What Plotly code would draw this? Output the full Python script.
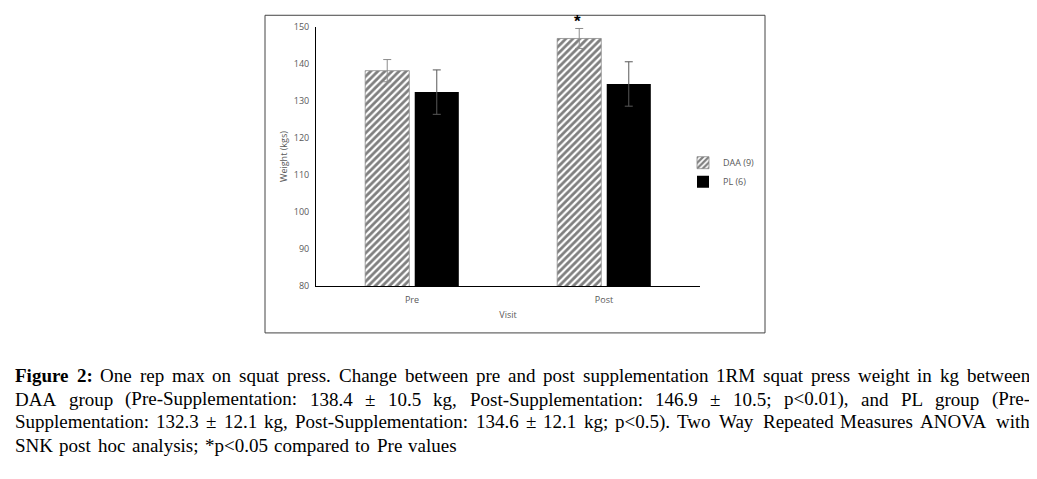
import plotly.graph_objects as go

# ---- data ----
visits = ["Pre", "Post"]
daa_mean = [138.2, 146.9]
daa_err = [3.0, 2.7]
pl_mean = [132.4, 134.6]
pl_err = [6.0, 6.0]
y_ticks = [80, 90, 100, 110, 120, 130, 140, 150]

caption_lines = [
    "<b>Figure</b> <b>2:</b> One rep max on squat press. Change between pre and post supplementation 1RM squat press weight in kg between",
    "DAA group (Pre-Supplementation: 138.4 ± 10.5 kg, Post-Supplementation: 146.9 ± 10.5; p<0.01), and PL group (Pre-",
    "Supplementation: 132.3 ± 12.1 kg, Post-Supplementation: 134.6 ± 12.1 kg; p<0.5). Two Way Repeated Measures ANOVA with",
    "SNK post hoc analysis; *p<0.05 compared to Pre values",
]

# ---- layout (screen pixel coordinates; page body has an 8px margin) ----
OFF = 8
W, H = 1037 - 2 * OFF, 479 - 2 * OFF
L, R, T, B = 316, 700, 21, 286  # plot area in screen pixels


def px(x):
    return (x - L) / (R - L)


def py(y):
    return (B - y) / (B - T)


fig = go.Figure()
fig.add_trace(go.Bar(
    name="DAA (9)", x=visits, y=daa_mean,
    error_y=dict(type="data", array=daa_err, color="#8c8c8c", thickness=1, width=4),
    marker=dict(color="white", line=dict(color="#8c8c8c", width=0.8),
                pattern=dict(shape="/", fgcolor="black", bgcolor="white", size=5, solidity=0.55)),
))
fig.add_trace(go.Bar(
    name="PL (6)", x=visits, y=pl_mean,
    error_y=dict(type="data", array=pl_err, color="#595959", thickness=1, width=4),
    marker=dict(color="black", line=dict(width=0)),
))

tick_font = dict(family="Open Sans, Liberation Sans, sans-serif", size=9, color="#595959")

fig.update_layout(
    width=W, height=H,
    margin=dict(l=L - OFF, r=(W + OFF) - R, t=T - OFF, b=(H + OFF) - B, pad=0),
    paper_bgcolor="white", plot_bgcolor="white",
    barmode="group", bargap=0.484, bargroupgap=0.11,
    showlegend=True,
    legend=dict(x=px(683), y=py(145), xanchor="left", yanchor="top",
                font=tick_font, itemwidth=30, bgcolor="rgba(0,0,0,0)"),
    font=tick_font,
)
fig.update_yaxes(range=[80, 150], tickvals=y_ticks, showgrid=False, zeroline=False,
                 showline=True, linecolor="black", linewidth=1, ticks="", tickfont=tick_font,
                 ticklabelstandoff=4,
                 title=dict(text="Weight (kgs)", font=tick_font, standoff=4))
fig.update_xaxes(showgrid=False, showline=True, linecolor="black", linewidth=1, ticks="",
                 tickfont=tick_font, ticklabelstandoff=5,
                 title=dict(text="Visit", font=tick_font, standoff=6))

# figure box
fig.add_shape(type="rect", xref="paper", yref="paper",
              x0=px(265), x1=px(765), y0=py(9), y1=py(334),
              line=dict(color="#444444", width=1), fillcolor="rgba(0,0,0,0)", layer="below")

# significance asterisk
fig.add_annotation(x="Post", y=daa_mean[1] + daa_err[1], xref="x", yref="y",
                   text="<b>*</b>", showarrow=False, xshift=-27, yanchor="bottom", yshift=-5,
                   font=dict(family="Liberation Sans, sans-serif", size=17, color="black"))

# ---- caption, justified word by word using Times metrics ----
FS = 19
cap_font = dict(family="Liberation Serif, Times New Roman, serif", size=FS, color="black")

REG = {' ': 250, '.': 250, ',': 250, ';': 278, ':': 278, '±': 549, '(': 333, ')': 333,
       '<': 564, '-': 333, '*': 500,
       'A': 722, 'B': 667, 'C': 667, 'D': 722, 'E': 611, 'F': 556, 'G': 722, 'H': 722, 'I': 333,
       'K': 722, 'L': 611, 'M': 889, 'N': 722, 'O': 722, 'P': 556, 'R': 667, 'S': 556, 'T': 611,
       'V': 722, 'W': 944,
       'a': 444, 'b': 500, 'c': 444, 'd': 500, 'e': 444, 'f': 333, 'g': 500, 'h': 500, 'i': 278,
       'k': 500, 'l': 278, 'm': 778, 'n': 500, 'o': 500, 'p': 500, 'q': 500, 'r': 333, 's': 389,
       't': 278, 'u': 500, 'v': 500, 'w': 722, 'x': 500, 'y': 500}
BOLD = {'F': 611, 'i': 278, 'g': 500, 'u': 556, 'r': 444, 'e': 444, '2': 500, ':': 333}


def word_width(w):
    if w.startswith("<b>"):
        core = w[3:-4]
        return sum(BOLD.get(c, 500) for c in core) * FS / 1000
    return sum(REG.get(c, 500) for c in w) * FS / 1000


def cap_line(text, y, x0, x1):
    words = text.split(" ")
    widths = [word_width(w) for w in words]
    gap = (x1 - x0 - sum(widths)) / (len(words) - 1)
    x = x0
    for w, wd in zip(words, widths):
        fig.add_annotation(text=w.replace("<", "&lt;").replace("&lt;b>", "<b>").replace("&lt;/b>", "</b>"),
                           x=px(x), y=py(y), xref="paper", yref="paper",
                           xanchor="left", yanchor="middle", showarrow=False, font=cap_font)
        x += wd + gap


line_y = [378, 402, 425, 449]
line_right = [1028, 1028, 1028, 455]
for text, y, xr in zip(caption_lines, line_y, line_right):
    cap_line(text, y, 13, xr)

fig.write_html("out.html")
